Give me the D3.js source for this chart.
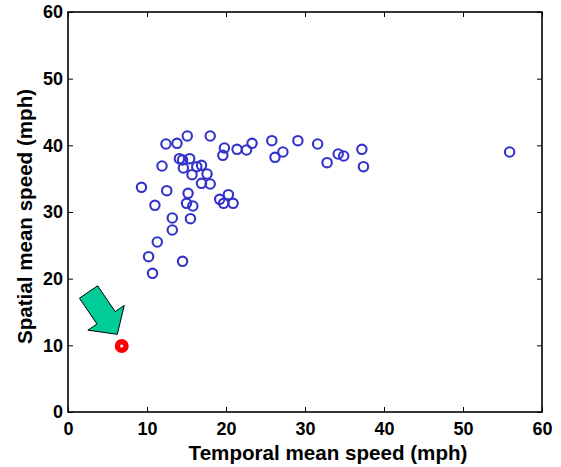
<!DOCTYPE html>
<html><head><meta charset="utf-8">
<script src="https://cdn.jsdelivr.net/npm/d3@7"></script>
<style>body{margin:0;background:#fff}svg{display:block}</style>
</head><body>
<svg id="c" width="561" height="467"></svg>
<script>
const temporal = [12.4,13.8,15.1,18.0,19.8,19.6,21.4,22.6,23.3,25.8,26.2,27.2,29.1,31.6,32.8,34.2,34.9,37.2,37.4,55.9,
  11.9,14.1,14.5,15.4,14.6,15.7,16.3,16.9,17.6,16.9,18.0,9.3,12.5,11.0,15.2,15.0,15.8,15.5,13.2,13.2,19.2,20.3,19.7,20.9,
  14.5,11.3,10.2,10.7];
const spatial = [40.2,40.3,41.4,41.4,39.6,38.5,39.4,39.3,40.3,40.7,38.2,39.0,40.7,40.2,37.4,38.7,38.4,39.4,36.8,39.0,
  36.9,38.0,37.8,38.0,36.6,35.6,36.8,37.0,35.7,34.3,34.2,33.7,33.2,31.0,32.8,31.3,30.9,29.0,29.1,27.3,31.9,32.6,31.3,31.3,
  22.6,25.5,23.3,20.8];
const outlierX = [6.8], outlierY = [9.9];
const arrowTail = [2.6, 18.0], arrowTip = [6.24, 11.65];
const xTicks = [0,10,20,30,40,50,60], yTicks = [0,10,20,30,40,50,60];
const xTitle = "Temporal mean speed (mph)", yTitle = "Spatial mean speed (mph)";

const svg = d3.select("#c");
const L=68, R=542, T=12, B=412;
const x = d3.scaleLinear().domain([0,60]).range([L,R]);
const y = d3.scaleLinear().domain([0,60]).range([B,T]);
const font = "'Liberation Sans', Arial, sans-serif";

// axes
const gx = svg.append("g").attr("transform",`translate(0,${B})`).call(d3.axisBottom(x).tickValues(xTicks).tickSize(-5).tickPadding(10.7));
const gy = svg.append("g").attr("transform",`translate(${L},0)`).call(d3.axisLeft(y).tickValues(yTicks).tickSize(-5).tickPadding(5));
const gt = svg.append("g").attr("transform",`translate(0,${T})`).call(d3.axisTop(x).tickValues(xTicks).tickSize(-5).tickFormat(""));
const gr = svg.append("g").attr("transform",`translate(${R},0)`).call(d3.axisRight(y).tickValues(yTicks).tickSize(-5).tickFormat(""));
[gx,gy,gt,gr].forEach(g=>{
  g.select(".domain").remove();
  g.selectAll(".tick line").attr("stroke","#000").attr("stroke-width",1);
  g.selectAll("text").attr("font-family",font).attr("font-weight","bold").attr("font-size",18).attr("fill","#000");
});
svg.append("rect").attr("x",L).attr("y",T).attr("width",R-L).attr("height",B-T)
  .attr("fill","none").attr("stroke","#000").attr("stroke-width",1.6);

// titles
svg.append("text").attr("x",328).attr("y",460).attr("text-anchor","middle")
  .attr("font-family",font).attr("font-weight","bold").attr("font-size",20.6).text(xTitle);
svg.append("text").attr("transform",`translate(32,216.5) rotate(-90)`).attr("text-anchor","middle")
  .attr("font-family",font).attr("font-weight","bold").attr("font-size",20.6).text(yTitle);

// points
svg.append("g").selectAll("circle").data(temporal.map((t,i)=>[t,spatial[i]])).join("circle")
  .attr("cx",d=>x(d[0])).attr("cy",d=>y(d[1])).attr("r",4.7)
  .attr("fill","none").attr("stroke","#3333cc").attr("stroke-width",2.1);

// outlier
svg.append("g").selectAll("circle").data(outlierX.map((t,i)=>[t,outlierY[i]])).join("circle")
  .attr("cx",d=>x(d[0])).attr("cy",d=>y(d[1])).attr("r",7).attr("fill","#ff0000");
svg.append("g").selectAll("circle").data(outlierX.map((t,i)=>[t,outlierY[i]])).join("circle")
  .attr("cx",d=>x(d[0])).attr("cy",d=>y(d[1])).attr("r",1.6).attr("fill","#fff");

// arrow
(function(){
  const tx=x(arrowTail[0]), ty=y(arrowTail[1]), px=x(arrowTip[0]), py=y(arrowTip[1]);
  const dx=px-tx, dy=py-ty, len=Math.hypot(dx,dy), ux=dx/len, uy=dy/len, nx=-uy, ny=ux;
  const headLen=20, sw=11, hw=22;
  const bx=px-ux*headLen, by=py-uy*headLen;
  const pts=[[tx+nx*sw,ty+ny*sw],[bx+nx*sw,by+ny*sw],[bx+nx*hw,by+ny*hw],[px,py],[bx-nx*hw,by-ny*hw],[bx-nx*sw,by-ny*sw],[tx-nx*sw,ty-ny*sw]];
  svg.append("path").attr("d",d3.line()(pts)+"Z").attr("fill","#00cc99").attr("stroke","#000").attr("stroke-width",1);
})();
</script>
</body></html>
